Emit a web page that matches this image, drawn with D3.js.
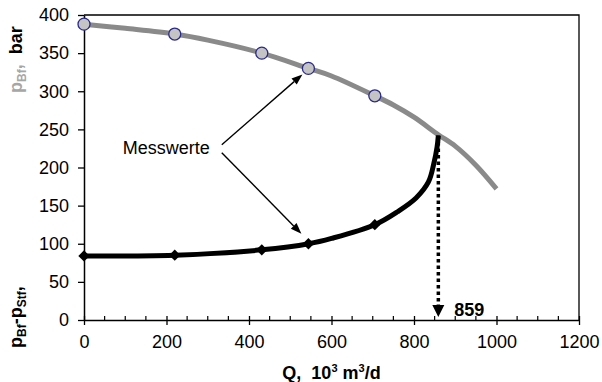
<!DOCTYPE html>
<html>
<head>
<meta charset="utf-8">
<script src="https://cdn.jsdelivr.net/npm/d3@7"></script>
<style>
  html, body { margin: 0; padding: 0; background: #fff; }
  svg { display: block; font-family: "Liberation Sans", Arial, sans-serif; }
</style>
</head>
<body>
<svg id="chart" width="602" height="382"></svg>
<script>
// Measured operating points (Q in 10^3 m^3/d)
const qMeasured = [0, 220, 431, 544, 705];
const pBfMeasured = [388, 375, 350, 330, 294];
const dpMeasured = [84, 85, 92, 100, 125];

// Bottomhole pressure curve p_Bf(Q)
const qPBf = [0, 100, 220, 300, 431, 544, 600, 705, 750, 800, 859, 900, 950, 1000];
const pBfCurve = [388, 382.5, 375, 367, 350, 330, 320, 294, 282, 266, 243, 228, 203, 172];

// Drawdown curve p_Bf - p_Stf(Q)
const qDp = [0, 220, 431, 545, 600, 705, 760, 805, 835, 848, 856, 859];
const dpCurve = [84, 85, 92, 100, 107, 125, 142, 160, 181, 205, 227, 242];

// Maximum rate marker
const qMax = 859;
const pAtMax = 242;

const xTicks = [0, 200, 400, 600, 800, 1000, 1200];
const yTicks = [0, 50, 100, 150, 200, 250, 300, 350, 400];

const svg = d3.select("#chart");
const m = { left: 84, top: 15, right: 23, bottom: 62 };
const W = 602 - m.left - m.right;
const H = 382 - m.top - m.bottom;

const x = d3.scaleLinear().domain([0, 1200]).range([0, W]);
const y = d3.scaleLinear().domain([0, 400]).range([H, 0]);
const fmt = d3.format("d");

const g = svg.append("g").attr("transform", `translate(${m.left},${m.top})`);

// frame (top and right)
g.append("path")
  .attr("d", `M0,0H${W}V${H}`)
  .attr("fill", "none").attr("stroke", "#000").attr("stroke-width", 1.3);

// x axis
const xAxis = g.append("g").attr("transform", `translate(0,${H})`)
  .call(d3.axisBottom(x).tickValues(xTicks).tickFormat(fmt).tickSize(5).tickPadding(10).tickSizeOuter(0));
xAxis.select(".domain").attr("stroke-width", 1.5);
xAxis.selectAll(".tick line").attr("y1", -4).attr("stroke-width", 1.3);
xAxis.selectAll("text").attr("font-size", 18).attr("fill", "#000");
// minor ticks
g.append("g").selectAll("line")
  .data(d3.range(50, 1200, 50).filter(d => d % 200 !== 0))
  .join("line")
  .attr("x1", d => x(d)).attr("x2", d => x(d))
  .attr("y1", H - 4).attr("y2", H)
  .attr("stroke", "#000").attr("stroke-width", 1.2);

// y axis
const yAxis = g.append("g")
  .call(d3.axisLeft(y).tickValues(yTicks).tickFormat(fmt).tickSize(6).tickPadding(9).tickSizeOuter(0));
yAxis.select(".domain").attr("stroke-width", 1.5);
yAxis.selectAll(".tick line").attr("stroke-width", 1.3);
yAxis.selectAll("text").attr("font-size", 18).attr("fill", "#000");

// axis titles
const xt = svg.append("text")
  .attr("x", m.left + W / 2).attr("y", 379)
  .attr("text-anchor", "middle").attr("font-size", 18).attr("font-weight", "bold");
xt.append("tspan").text("Q,\u00a0\u00a010");
xt.append("tspan").attr("font-size", 11).attr("dy", -7).text("3");
xt.append("tspan").attr("dy", 7).text("\u00a0m");
xt.append("tspan").attr("font-size", 11).attr("dy", -7).text("3");
xt.append("tspan").attr("dy", 7).text("/d");

const yt1 = svg.append("text")
  .attr("transform", "translate(22,93) rotate(-90)")
  .attr("font-size", 18).attr("font-weight", "bold");
yt1.append("tspan").attr("fill", "#a6a6a6").text("p");
yt1.append("tspan").attr("fill", "#a6a6a6").attr("font-size", 12).attr("dy", 4).text("Bf");
yt1.append("tspan").attr("fill", "#a6a6a6").attr("dy", -4).text(",");
yt1.append("tspan").attr("fill", "#000").text("\u00a0\u00a0bar");

const yt2 = svg.append("text")
  .attr("transform", "translate(22,348) rotate(-90)")
  .attr("font-size", 18).attr("font-weight", "bold").attr("fill", "#000");
yt2.append("tspan").text("p");
yt2.append("tspan").attr("font-size", 12).attr("dy", 4).text("Bf");
yt2.append("tspan").attr("dy", -4).text("-p");
yt2.append("tspan").attr("font-size", 12).attr("dy", 4).text("Stf");
yt2.append("tspan").attr("dy", -4).text(",");

// curves
const line = d3.line().x(d => x(d[0])).y(d => y(d[1])).curve(d3.curveCatmullRom.alpha(0.5));
g.append("path")
  .datum(d3.zip(qPBf, pBfCurve))
  .attr("d", line)
  .attr("fill", "none").attr("stroke", "#8a8a8a").attr("stroke-width", 5);
g.append("path")
  .datum(d3.zip(qDp, dpCurve))
  .attr("d", line)
  .attr("fill", "none").attr("stroke", "#000").attr("stroke-width", 5);

// dotted drop line to Q axis with arrowhead
g.append("line")
  .attr("x1", x(qMax)).attr("x2", x(qMax))
  .attr("y1", y(pAtMax)).attr("y2", H - 12)
  .attr("stroke", "#000").attr("stroke-width", 3.5).attr("stroke-dasharray", "3.5,3");
g.append("path")
  .attr("d", `M${x(qMax) - 6},${H - 15}L${x(qMax) + 6},${H - 15}L${x(qMax)},${H - 3}Z`)
  .attr("fill", "#000");
g.append("text")
  .attr("x", x(qMax) + 16).attr("y", H - 4)
  .attr("font-size", 18).attr("font-weight", "bold").text(qMax);

// markers
g.append("g").selectAll("circle")
  .data(d3.zip(qMeasured, pBfMeasured))
  .join("circle")
  .attr("cx", d => x(d[0])).attr("cy", d => y(d[1])).attr("r", 6)
  .attr("fill", "#c4c4c4").attr("stroke", "#2a2a8a").attr("stroke-width", 1.3);
g.append("g").selectAll("path")
  .data(d3.zip(qMeasured, dpMeasured))
  .join("path")
  .attr("d", d3.symbol(d3.symbolSquare, 64))
  .attr("transform", d => `translate(${x(d[0])},${y(d[1])}) rotate(45)`)
  .attr("fill", "#000");

// "Messwerte" annotation with arrows to the measured points at Q = 544
const labelQ = 94, labelP = 226;
g.append("text")
  .attr("x", x(labelQ)).attr("y", y(labelP) + 6)
  .attr("font-size", 18).text("Messwerte");

function arrow(x0, y0, x1, y1) {
  const a = Math.atan2(y1 - y0, x1 - x0), len = 11, w = 4;
  const bx = x1 - len * Math.cos(a), by = y1 - len * Math.sin(a);
  g.append("line").attr("x1", x0).attr("y1", y0).attr("x2", bx).attr("y2", by)
    .attr("stroke", "#000").attr("stroke-width", 1.4);
  g.append("path")
    .attr("d", `M${x1},${y1}L${bx - w * Math.sin(a)},${by + w * Math.cos(a)}L${bx + w * Math.sin(a)},${by - w * Math.cos(a)}Z`)
    .attr("fill", "#000");
}
const sx = x(labelQ) + 99, sy = y(labelP);
arrow(sx, sy - 3, x(qMeasured[3]) - 6, y(pBfMeasured[3]) + 6);
arrow(sx, sy + 5, x(qMeasured[3]) - 7, y(dpMeasured[3]) - 10);
</script>
</body>
</html>
